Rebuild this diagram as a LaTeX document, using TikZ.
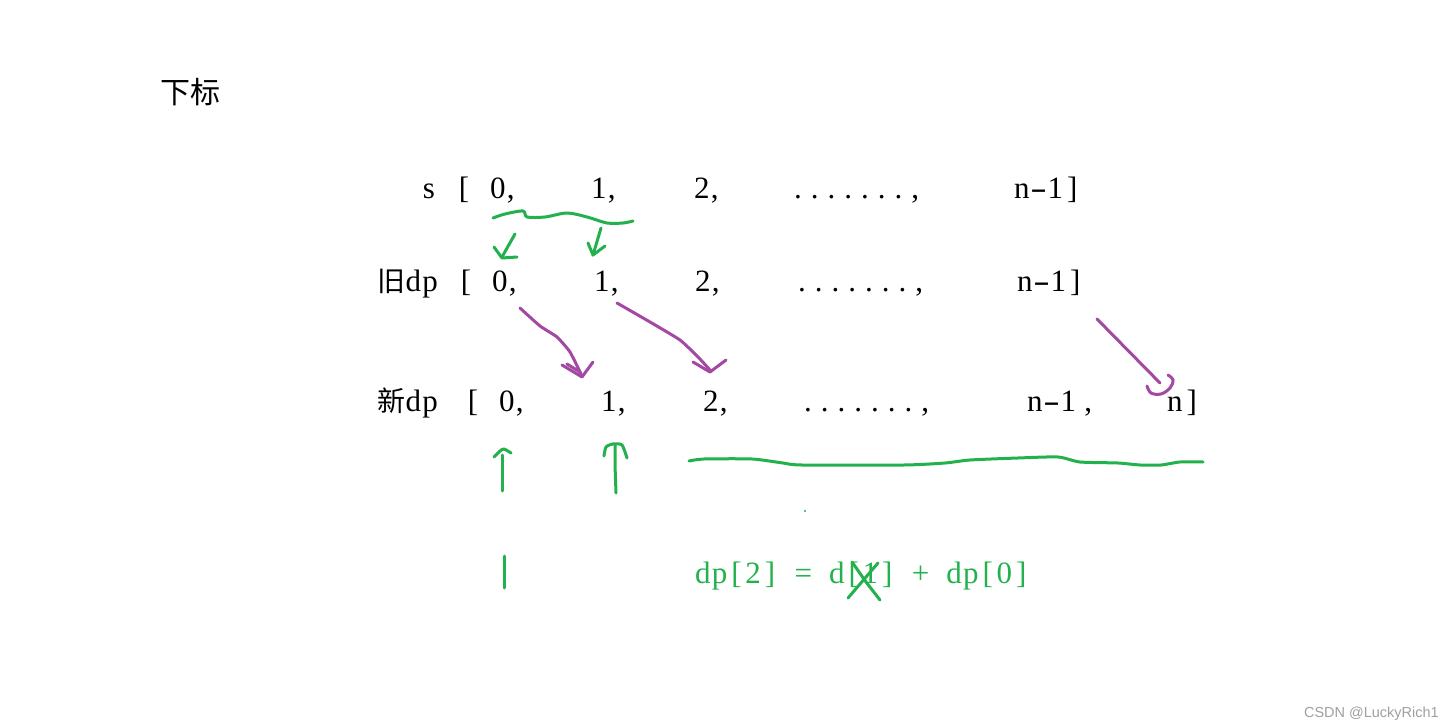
\documentclass[tikz,border=0pt]{standalone}
\usepackage{fontspec}
\usepackage{graphicx}
\setmainfont{Liberation Serif}
\newfontfamily\cjk{Noto Sans CJK SC}
\newfontfamily\wmfont{Liberation Sans}
\newlength\cw \setlength\cw{16.75pt}
\newcommand\mc[1]{\makebox[\cw]{#1}}
\newcommand\hy{\scalebox{1.6}[1]{-}}
\newcommand\dc[1]{\mc{#1}\kern-4pt\mc{,}}
\definecolor{pgreen}{RGB}{34,177,76}
\definecolor{ppurple}{RGB}{163,73,164}
\definecolor{wmgray}{RGB}{160,160,160}
\begin{document}
\begin{tikzpicture}[x=1pt,y=-1pt,
  tok/.style={anchor=base west,inner sep=0pt,outer sep=0pt,font=\fontsize{31}{36}\selectfont},
  cjktok/.style={anchor=base west,inner sep=0pt,outer sep=0pt,font=\cjk\fontsize{28}{34}\selectfont},
  gstroke/.style={draw=pgreen,line width=3pt,line cap=round,line join=round},
  pstroke/.style={draw=ppurple,line width=3pt,line cap=round,line join=round}]
\useasboundingbox[fill=white] (0,0) rectangle (1453,727);

% title
\node[cjktok,font=\cjk\fontsize{30}{36}\selectfont] (title) at (160,104) {下标};

% row 1: s
\node[tok] (sname) at (420.6,199) {\mc{s}};
\node[tok] (sopen) at (455.6,199) {\mc{[}};
\node[tok] (s0) at (489.6,199) {\dc{0}};
\node[tok] (s1) at (590.6,199) {\dc{1}};
\node[tok] (s2) at (693.6,199) {\dc{2}};
\node[tok] (sdots) at (789.6,199) {\mc{.}\mc{.}\mc{.}\mc{.}\mc{.}\mc{.}\mc{.}\mc{,}};
\node[tok] (sn) at (1013.6,199) {\mc{n}\mc{\hy}\mc{1}\mc{]}};

% row 2: old dp
\node[tok] (oname) at (377,291) {{\cjk\fontsize{28}{34}\selectfont 旧}\mc{d}\mc{p}};
\node[tok] (oopen) at (457.6,291) {\mc{[}};
\node[tok] (o0) at (491.6,291) {\dc{0}};
\node[tok] (o1) at (593.6,291) {\dc{1}};
\node[tok] (o2) at (694.6,291) {\dc{2}};
\node[tok] (odots) at (793.6,291) {\mc{.}\mc{.}\mc{.}\mc{.}\mc{.}\mc{.}\mc{.}\mc{,}};
\node[tok] (on) at (1016.6,291) {\mc{n}\mc{\hy}\mc{1}\mc{]}};

% row 3: new dp
\node[tok] (nname) at (377,411) {{\cjk\fontsize{28}{34}\selectfont 新}\mc{d}\mc{p}};
\node[tok] (nopen) at (464.6,411) {\mc{[}};
\node[tok] (n0) at (498.6,411) {\dc{0}};
\node[tok] (n1) at (600.6,411) {\dc{1}};
\node[tok] (n2) at (702.6,411) {\dc{2}};
\node[tok] (ndots) at (799.6,411) {\mc{.}\mc{.}\mc{.}\mc{.}\mc{.}\mc{.}\mc{.}\mc{,}};
\node[tok] (nn1) at (1026.6,411) {\mc{n}\mc{\hy}\mc{1}\hspace{3pt}\mc{,}};
\node[tok] (nn) at (1166.6,411) {\mc{n}\mc{]}};

% equation
\node[tok,text=pgreen] (eq) at (694.6,583) {\mc{d}\mc{p}\mc{[}\mc{2}\mc{]}\mc{ }\mc{=}\mc{ }\mc{d}\mc{[}\mc{1}\mc{]}\mc{ }\mc{+}\mc{ }\mc{d}\mc{p}\mc{[}\mc{0}\mc{]}};

% watermark
\node[anchor=base east,inner sep=0pt,text=wmgray,font=\wmfont\fontsize{14.5}{17}\selectfont] (wm) at (1439,717) {CSDN @LuckyRich1};

% green brace under s[0], s[1]
\draw[gstroke] plot[smooth,tension=0.5] coordinates {(493,218) (505,214) (523,211) (527,217) (545,217) (567,213) (587,217) (607,223) (623,223) (633,221)};
% green arrows down
\draw[gstroke] (515,234) -- (502,257);
\draw[gstroke] (494,247) -- (502,258) -- (517,257);
\draw[gstroke] (601,228) -- (593,255);
\draw[gstroke] (588,243) -- (593,255) -- (605,246);

% purple arrows
\draw[pstroke] plot[smooth,tension=0.3] coordinates {(520,308) (540,326) (557,337) (570,352) (582,376)};
\draw[pstroke] (562,365) -- (582,377) -- (593,362);
\draw[pstroke] (567,364) -- (580,372);
\draw[pstroke] plot[smooth,tension=0.3] coordinates {(617,303) (650,322) (680,340) (698,357) (710,370)};
\draw[pstroke] (693,362) -- (710,372) -- (726,360);
\draw[pstroke] (1097,319) -- (1160,383);
\draw[pstroke] plot[smooth,tension=0.6] coordinates {(1147,386) (1151,393) (1161,394) (1170,388) (1173,380) (1168,375)};

% green up arrows
\draw[gstroke] (502,491) -- (502,455);
\draw[gstroke] plot[smooth,tension=0.4] coordinates {(494,457) (500,451) (504,449) (511,453)};
\draw[gstroke] (616,493) -- (615,465) -- (615,445);
\draw[gstroke] plot[smooth,tension=0.4] coordinates {(604,456) (606,447) (613,444) (622,445) (627,458)};

% green long wavy line
\draw[gstroke] plot[smooth,tension=0.4] coordinates {(689,461) (704,459) (752,459) (783,463) (802,465) (904,465) (945,463) (970,460) (1018,458) (1058,457) (1080,462) (1118,463) (1140,465) (1161,465) (1180,462) (1203,462)};

% tiny dot
\fill[pgreen] (805,511) circle (1.2pt);

% green bar
\draw[gstroke] (504,556) -- (504,588);

% green cross
\draw[gstroke] (848,598) -- (878,563);
\draw[gstroke] (852,562) -- (866,582) -- (880,600);
\end{tikzpicture}
\end{document}
